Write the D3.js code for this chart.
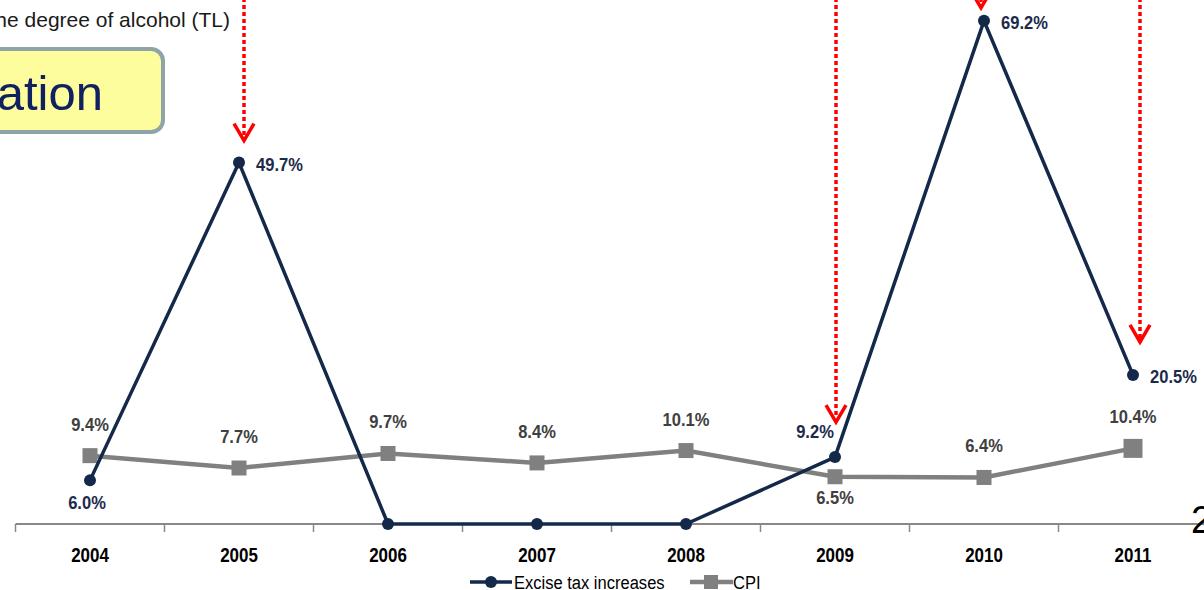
<!DOCTYPE html>
<html>
<head>
<meta charset="utf-8">
<script src="https://cdn.jsdelivr.net/npm/d3@7"></script>
<style>
  html, body { margin: 0; padding: 0; background: #fff; overflow: hidden; }
  svg { display: block; }
</style>
</head>
<body>
<svg id="chart" width="1204" height="590"></svg>
<script>
// Yearly change: excise tax per degree of alcohol vs. consumer price index
const years = ["2004", "2005", "2006", "2007", "2008", "2009", "2010", "2011"];
const exciseIncrease = [6.0, 49.7, 0, 0, 0, 9.2, 69.2, 20.5];
const cpi = [9.4, 7.7, 9.7, 8.4, 10.1, 6.5, 6.4, 10.4];
const seriesNames = ["Excise tax increases", "CPI"];
// Years in which an excise hike is flagged with a red arrow
const flaggedYears = ["2005", "2009", "2010", "2011"];

const NAVY = "#14284a";
const GREY = "#808080";
const LABEL_FONT = "'Liberation Sans', Arial, sans-serif";
const NARROW = 0.87; // horizontal squeeze for the condensed label face

const svg = d3.select("#chart");

const x = d3.scaleBand().domain(years).range([15.5, 1207.5]).paddingInner(0).paddingOuter(0);
const cx = d => x(d) + x.bandwidth() / 2;
const y = d3.scaleLinear().domain([0, 70]).range([524, 15]);

// place a text at (px, py) with condensed glyphs
function placeNarrow(sel, px, py) {
  sel.attr("x", 0).attr("y", 0)
    .attr("transform", `translate(${px},${py}) scale(${NARROW},1)`);
}

// Slide header fragments
svg.append("text")
  .attr("x", 230).attr("y", 27)
  .attr("text-anchor", "end")
  .attr("font-family", "'Liberation Sans', Arial, sans-serif")
  .attr("font-size", 21)
  .attr("fill", "#1a1a1a")
  .text("the degree of alcohol (TL)");

svg.append("rect")
  .attr("x", -30).attr("y", 49)
  .attr("width", 193).attr("height", 83)
  .attr("rx", 12).attr("ry", 12)
  .attr("fill", "#fdfd9d")
  .attr("stroke", "#8ea4a8")
  .attr("stroke-width", 4);

svg.append("text")
  .attr("x", 103).attr("y", 110)
  .attr("text-anchor", "end")
  .attr("font-family", "'Liberation Sans', Arial, sans-serif")
  .attr("font-size", 49)
  .attr("fill", "#0f2161")
  .text("ation");

// X axis
const axis = d3.axisBottom(x).tickSize(0).tickFormat(d => d);
const gx = svg.append("g").attr("transform", `translate(0,${y(0)})`).call(axis);
gx.select(".domain").remove();
gx.selectAll("text")
  .attr("dy", null)
  .attr("y", 38)
  .attr("transform", `scale(${NARROW},1)`)
  .attr("font-family", LABEL_FONT)
  .attr("font-weight", "bold")
  .attr("font-size", 19.5)
  .attr("fill", "#000");

svg.append("line")
  .attr("x1", x.range()[0]).attr("x2", 1204)
  .attr("y1", y(0)).attr("y2", y(0))
  .attr("stroke", "#888").attr("stroke-width", 2);

svg.selectAll("line.tick-mark")
  .data(years)
  .join("line")
  .attr("class", "tick-mark")
  .attr("x1", d => x(d)).attr("x2", d => x(d))
  .attr("y1", y(0)).attr("y2", y(0) + 8)
  .attr("stroke", "#888").attr("stroke-width", 1.5);

// Page number at right edge
svg.append("text")
  .attr("x", 1191).attr("y", 533)
  .attr("font-family", "'Liberation Sans', Arial, sans-serif")
  .attr("font-size", 38)
  .attr("fill", "#000")
  .text("2");

// CPI series
const cpiData = years.map((yr, i) => ({ yr, v: cpi[i], i }));
svg.append("path")
  .datum(cpiData)
  .attr("fill", "none")
  .attr("stroke", GREY)
  .attr("stroke-width", 4.5)
  .attr("d", d3.line().x(d => cx(d.yr)).y(d => y(d.v)));

svg.selectAll("rect.cpi-mark")
  .data(cpiData)
  .join("rect")
  .attr("class", "cpi-mark")
  .each(function (d) {
    const s = d.i === cpiData.length - 1 ? 19 : 15;
    d3.select(this)
      .attr("x", cx(d.yr) - s / 2).attr("y", y(d.v) - s / 2)
      .attr("width", s).attr("height", s);
  })
  .attr("fill", GREY);

// Excise series
const exData = years.map((yr, i) => ({ yr, v: exciseIncrease[i], i }));
svg.append("path")
  .datum(exData)
  .attr("fill", "none")
  .attr("stroke", NAVY)
  .attr("stroke-width", 3.5)
  .attr("stroke-linejoin", "round")
  .attr("d", d3.line().x(d => cx(d.yr)).y(d => y(d.v)));

svg.selectAll("circle.ex-mark")
  .data(exData)
  .join("circle")
  .attr("class", "ex-mark")
  .attr("cx", d => cx(d.yr)).attr("cy", d => y(d.v))
  .attr("r", 6)
  .attr("fill", NAVY);

// Data labels
const fmt = v => v.toFixed(1) + "%";

// excise: label placement relative to the marker
const exPlace = { "2004": "below", "2005": "right", "2009": "left", "2010": "right", "2011": "right" };
svg.selectAll("text.ex-label")
  .data(exData.filter(d => d.v > 0))
  .join("text")
  .attr("class", "ex-label")
  .each(function (d) {
    const t = d3.select(this);
    const p = exPlace[d.yr];
    if (p === "below") {
      t.attr("text-anchor", "middle");
      placeNarrow(t, cx(d.yr) - 3, y(d.v) + 29);
    } else if (p === "left") {
      t.attr("text-anchor", "middle");
      placeNarrow(t, cx(d.yr) - 20, y(d.v) - 19);
    } else {
      t.attr("text-anchor", "start");
      placeNarrow(t, cx(d.yr) + 17, y(d.v) + 8);
    }
  })
  .attr("font-family", LABEL_FONT)
  .attr("font-weight", "bold")
  .attr("font-size", 19)
  .attr("fill", "#1c2b4b")
  .text(d => fmt(d.v));

svg.selectAll("text.cpi-label")
  .data(cpiData)
  .join("text")
  .attr("class", "cpi-label")
  .attr("text-anchor", "middle")
  .each(function (d) {
    placeNarrow(d3.select(this), cx(d.yr), d.yr === "2009" ? y(d.v) + 27 : y(d.v) - 25);
  })
  .attr("font-family", LABEL_FONT)
  .attr("font-weight", "bold")
  .attr("font-size", 19)
  .attr("fill", "#404040")
  .text(d => fmt(d.v));

// Red dotted arrows marking the tax hikes
const arrowStyle = { "2005": { dx: 5, gap: 22 }, "2009": { dx: 1, gap: 35 }, "2010": { dx: -3, gap: 13 }, "2011": { dx: 7, gap: 33 } };
flaggedYears.forEach(yr => {
  const i = years.indexOf(yr);
  const st = arrowStyle[yr];
  const ax = cx(yr) + st.dx;
  const tip = y(exciseIncrease[i]) - st.gap;
  svg.append("line")
    .attr("x1", ax).attr("x2", ax)
    .attr("y1", -2).attr("y2", tip - 4)
    .attr("stroke", "#ff0000")
    .attr("stroke-width", 3.5)
    .attr("stroke-dasharray", "4,3");
  svg.append("path")
    .attr("d", `M${ax - 10},${tip - 17}L${ax},${tip}L${ax + 10},${tip - 17}`)
    .attr("fill", "none")
    .attr("stroke", "#ff0000")
    .attr("stroke-width", 3.5);
});

// Legend
const lg = svg.append("g").attr("transform", "translate(0,582)");
lg.append("line").attr("x1", 470).attr("x2", 512).attr("y1", 0).attr("y2", 0)
  .attr("stroke", NAVY).attr("stroke-width", 3.5);
lg.append("circle").attr("cx", 491).attr("cy", 0).attr("r", 6).attr("fill", NAVY);
placeNarrow(
  lg.append("text").attr("font-family", LABEL_FONT).attr("font-size", 19).attr("fill", "#000").text(seriesNames[0]),
  514, 6.5);
lg.append("line").attr("x1", 690).attr("x2", 733).attr("y1", 0).attr("y2", 0)
  .attr("stroke", GREY).attr("stroke-width", 4.5);
lg.append("rect").attr("x", 704).attr("y", -7).attr("width", 14).attr("height", 14).attr("fill", GREY);
placeNarrow(
  lg.append("text").attr("font-family", LABEL_FONT).attr("font-size", 19).attr("fill", "#000").text(seriesNames[1]),
  733, 6.5);
</script>
</body>
</html>
